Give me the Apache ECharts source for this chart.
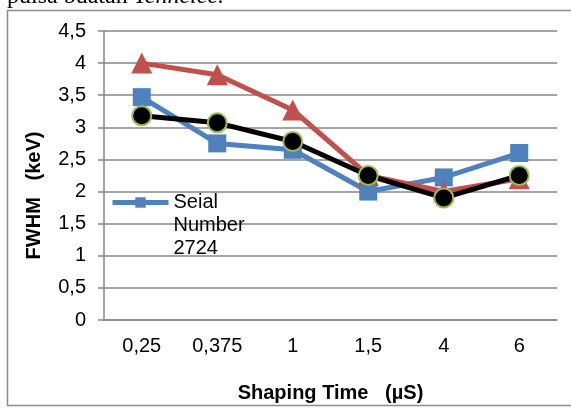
<!DOCTYPE html>
<html>
<head>
<meta charset="UTF-8">
<title>FWHM vs Shaping Time</title>
<script src="https://cdn.jsdelivr.net/npm/echarts@6/dist/echarts.min.js"></script>
<style>
  html, body { margin: 0; padding: 0; background: #fff; }
  #main { width: 571px; height: 408px; }
</style>
</head>
<body>
<div id="main"></div>
<script>
// data
var shapingTimes = ['0,25', '0,375', '1', '1,5', '4', '6'];
var serial2724 = [3.47, 2.75, 2.65, 2.0, 2.22, 2.6];
var redSeries = [4.0, 3.82, 3.27, 2.25, 2.0, 2.2];
var blackSeries = [3.18, 3.07, 2.78, 2.25, 1.9, 2.25];

var chart = echarts.init(document.getElementById('main'));
var font = '"Liberation Sans Narrow", "Liberation Sans", Arial, sans-serif';

var option = {
    animation: false,
    backgroundColor: '#fff',
    grid: { left: 104, right: 14, top: 31, bottom: 86 },
    legend: {
        data: [{ name: 'Seial Number 2724' }],
        left: 110, top: 145,
        padding: 0,
        itemWidth: 56, itemHeight: 13,
        lineStyle: { width: 5 },
        // two blank lines first so "Seial" sits level with the icon
        formatter: function () { return '\u00a0\n\u00a0\nSeial\nNumber\n2724'; },
        textStyle: { fontFamily: font, fontSize: 20, color: '#000', lineHeight: 23 }
    },
    xAxis: {
        type: 'category',
        data: shapingTimes,
        name: 'Shaping Time   (µS)',
        nameLocation: 'middle',
        nameGap: 63,
        nameTextStyle: { fontFamily: font, fontSize: 20, fontWeight: 'bold', color: '#000' },
        axisLine: { lineStyle: { color: '#868686', width: 1.5 } },
        axisTick: { length: 6, lineStyle: { color: '#868686', width: 1.5 } },
        axisLabel: { fontFamily: font, fontSize: 20, color: '#000', margin: 16 }
    },
    yAxis: {
        type: 'value',
        min: 0, max: 4.5, interval: 0.5,
        name: 'FWHM   (keV)',
        nameLocation: 'middle',
        nameGap: 60,
        nameTextStyle: { fontFamily: font, fontSize: 20, fontWeight: 'bold', color: '#000', padding: [0, 40, 0, 0] },
        axisLine: { show: true, lineStyle: { color: '#868686', width: 1.5 } },
        axisTick: { show: true, length: 6, lineStyle: { color: '#868686', width: 1.5 } },
        axisLabel: {
            fontFamily: font, fontSize: 20, color: '#000', margin: 18,
            formatter: function (v) { return String(v).replace('.', ','); }
        },
        splitLine: { lineStyle: { color: '#868686', width: 1.5 } }
    },
    series: [
        {
            name: 'Seial Number 2724',
            type: 'line',
            data: serial2724,
            symbol: 'rect', symbolSize: 18,
            lineStyle: { color: '#4F81BD', width: 5 },
            itemStyle: { color: '#4F81BD' },
            z: 2
        },
        {
            name: 'red',
            type: 'line',
            data: redSeries,
            symbol: 'triangle', symbolSize: 21,
            lineStyle: { color: '#C0504D', width: 5 },
            itemStyle: { color: '#C0504D' },
            z: 3
        },
        {
            name: 'black',
            type: 'line',
            data: blackSeries,
            symbol: 'circle', symbolSize: 19,
            lineStyle: { color: '#000', width: 5 },
            itemStyle: { color: '#000', borderColor: '#9BBB59', borderWidth: 2 },
            z: 4
        }
    ],
    graphic: [
        {
            type: 'rect', silent: true,
            shape: { x: 7.5, y: 10.5, width: 600, height: 395 },
            style: { fill: 'none', stroke: '#8c8c8c', lineWidth: 1.5 }
        },
        {
            type: 'text', left: 7, top: -15,
            style: {
                rich: {
                    n: { fontFamily: '"Liberation Serif", serif', fontSize: 24, fill: '#000' },
                    i: { fontFamily: '"Liberation Serif", serif', fontSize: 24, fontStyle: 'italic', fill: '#000' }
                },
                text: '{n|pulsa buatan }{i|Tennelec.}'
            }
        }
    ]
};
chart.setOption(option);
</script>
</body>
</html>
